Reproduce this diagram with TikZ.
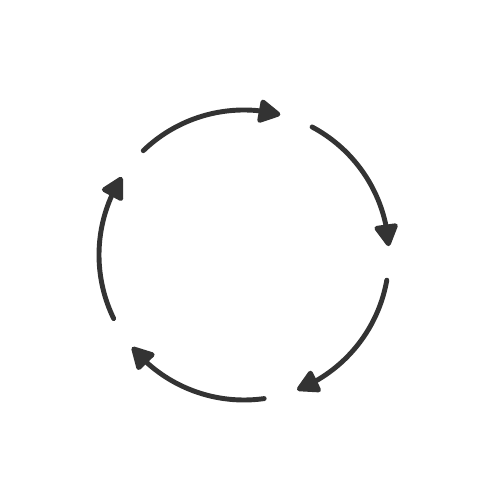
\documentclass[tikz,border=0pt]{standalone}
\usetikzlibrary{arrows.meta,bending}
\definecolor{ink}{HTML}{333333}
\tikzset{
  cyc/.style={draw=ink, line width=2.8pt, line cap=round,
    -{Triangle[length=14pt,width=14.5pt,round,flex]}}
}
\begin{document}
\begin{tikzpicture}
\useasboundingbox (0,0) rectangle (10,10);
\coordinate (c) at (4.88,4.9);
\foreach \s in {134,62,-10,-82,-154}{
  \pgfmathsetmacro{\e}{\s-58.5}
  \draw[cyc] (c) ++(\s:2.9) arc[start angle=\s, end angle=\e, radius=2.9cm];
}
\end{tikzpicture}
\end{document}
